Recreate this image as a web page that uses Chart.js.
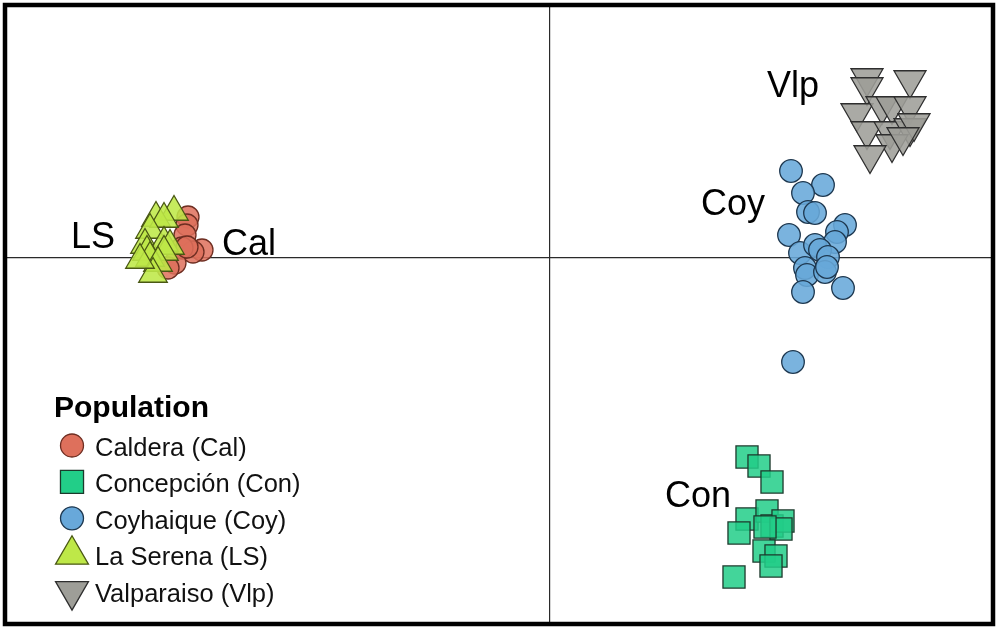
<!DOCTYPE html>
<html>
<head>
<meta charset="utf-8">
<script src="https://cdn.jsdelivr.net/npm/chart.js@4/dist/chart.umd.min.js"></script>
<style>
  html, body { margin: 0; padding: 0; background: #fff; }
  #wrap { width: 1000px; height: 630px; position: relative; }
</style>
</head>
<body>
<div id="wrap"><canvas id="pcoa"></canvas></div>
<script>
// population names, short codes
var popNames = ['Caldera (Cal)', 'Concepción (Con)', 'Coyhaique (Coy)', 'La Serena (LS)', 'Valparaiso (Vlp)'];
var popCodes = ['Cal', 'Con', 'Coy', 'LS', 'Vlp'];

// coordinate 1 / coordinate 2
var calX = [-3.62, -3.63, -3.65, -3.48, -3.57, -3.68, -3.75, -3.82, -3.63];
var calY = [0.41, 0.33, 0.23, 0.08, 0.06, 0.10, -0.05, -0.10, 0.11];

var conX = [1.97, 2.09, 2.22, 1.97, 2.17, 1.89, 2.22, 2.33, 2.31, 2.14, 2.26, 2.21, 1.84, 2.15];
var conY = [-1.99, -2.08, -2.24, -2.61, -2.53, -2.75, -2.68, -2.63, -2.71, -2.93, -2.98, -3.08, -3.19, -2.69];

var coyX = [2.41, 2.73, 2.53, 2.58, 2.65, 2.39, 2.95, 2.87, 2.85, 2.50, 2.65, 2.70, 2.78, 2.55, 2.57, 2.75, 2.77, 2.93, 2.53, 2.43];
var coyY = [0.87, 0.73, 0.65, 0.46, 0.45, 0.23, 0.33, 0.26, 0.16, 0.05, 0.13, 0.08, 0.01, -0.10, -0.17, -0.14, -0.09, -0.30, -0.34, -1.04];

var lsX = [-3.76, -3.94, -3.86, -4.00, -4.05, -3.86, -3.80, -3.86, -4.03, -4.00, -3.92, -3.97, -4.10];
var lsY = [0.46, 0.40, 0.39, 0.28, 0.13, 0.15, 0.12, 0.06, 0.06, 0.00, -0.05, -0.16, -0.02];

var vlpX = [3.17, 3.17, 3.60, 3.07, 3.32, 3.42, 3.60, 3.17, 3.40, 3.60, 3.64, 3.42, 3.20, 3.53];
var vlpY = [1.80, 1.71, 1.78, 1.45, 1.52, 1.52, 1.52, 1.27, 1.27, 1.30, 1.35, 1.14, 1.03, 1.21];

// cluster labels (left edge / baseline, in plot units)
var labelX = [-3.28, 1.15, 1.51, -4.79, 2.17];
var labelY = [0.03, -2.49, 0.43, 0.10, 1.61];

var axisMinX = -5.45, axisMaxX = 4.43;
var axisMinY = -3.66, axisMaxY = 2.53;

function pts(xs, ys) {
  return xs.map(function (x, i) { return { x: x, y: ys[i] }; });
}

var styles = [
  { fill: 'rgba(222,112,92,0.85)', line: '#6e2e22', shape: 'circle', r: 11, rot: 0 },
  { fill: 'rgba(34,206,136,0.85)', line: '#1c3a2c', shape: 'rect', r: 15.6, rot: 0 },
  { fill: 'rgba(104,168,218,0.88)', line: '#1e3850', shape: 'circle', r: 11.3, rot: 0 },
  { fill: 'rgba(190,232,72,0.88)', line: '#4a5814', shape: 'triangle', r: 16.5, rot: 0 },
  { fill: 'rgba(158,158,152,0.88)', line: '#2e2e2e', shape: 'triangle', r: 18.5, rot: 180 }
];
var series = [pts(calX, calY), pts(conX, conY), pts(coyX, coyY), pts(lsX, lsY), pts(vlpX, vlpY)];

var datasets = series.map(function (d, i) {
  var s = styles[i];
  return {
    label: popNames[i],
    data: d,
    order: 5 - i,
    pointStyle: s.shape,
    pointRadius: s.r,
    pointHoverRadius: s.r,
    pointRotation: s.rot,
    backgroundColor: s.fill,
    borderColor: s.line,
    borderWidth: 1.3
  };
});

var extras = {
  id: 'extras',
  afterDatasetsDraw: function (chart) {
    var ctx = chart.ctx, a = chart.chartArea;
    var xs = chart.scales.x, ys = chart.scales.y;
    ctx.save();

    // cluster codes
    ctx.fillStyle = '#000';
    ctx.font = '36px "Liberation Sans", Arial, sans-serif';
    ctx.textAlign = 'left';
    ctx.textBaseline = 'alphabetic';
    popCodes.forEach(function (c, i) {
      ctx.fillText(c, xs.getPixelForValue(labelX[i]), ys.getPixelForValue(labelY[i]));
    });

    // legend
    ctx.font = 'bold 30px "Liberation Sans", Arial, sans-serif';
    ctx.fillText('Population', 54, 417);
    ctx.font = '25.5px "Liberation Sans", Arial, sans-serif';
    popNames.forEach(function (n, i) {
      var s = styles[i];
      var base = 456 + i * 36.4;
      ctx.fillStyle = '#111';
      ctx.fillText(n, 95, base);
      var rr = s.shape === 'circle' ? 11.5 : (s.shape === 'rect' ? 16.3 : 19);
      ctx.fillStyle = s.fill.replace(/,0\.\d+\)/, ',1)');
      ctx.strokeStyle = s.line;
      ctx.lineWidth = 1.3;
      Chart.helpers.drawPoint(ctx, { pointStyle: s.shape, radius: rr, rotation: s.rot, borderWidth: 1.3 }, 72, base - 10.5);
    });

    // frame
    ctx.strokeStyle = '#000';
    ctx.lineWidth = 4.5;
    ctx.strokeRect(a.left, a.top, a.right - a.left, a.bottom - a.top);
    ctx.restore();
  }
};

var zeroLine = function (c) { return c.tick && c.tick.value === 0 ? '#2a2a2a' : 'rgba(0,0,0,0)'; };

new Chart(document.getElementById('pcoa'), {
  type: 'scatter',
  data: { datasets: datasets },
  options: {
    responsive: true,
    maintainAspectRatio: false,
    animation: false,
    layout: { autoPadding: false, padding: { left: 5, top: 5, right: 7, bottom: 6 } },
    plugins: { legend: { display: false }, tooltip: { enabled: false } },
    scales: {
      x: {
        type: 'linear', min: axisMinX, max: axisMaxX,
        ticks: { display: false, stepSize: 1 },
        grid: { color: zeroLine, lineWidth: 1.2, drawTicks: false },
        border: { display: false }
      },
      y: {
        type: 'linear', min: axisMinY, max: axisMaxY,
        ticks: { display: false, stepSize: 1 },
        grid: { color: zeroLine, lineWidth: 1.2, drawTicks: false },
        border: { display: false }
      }
    }
  },
  plugins: [extras]
});
</script>
</body>
</html>
